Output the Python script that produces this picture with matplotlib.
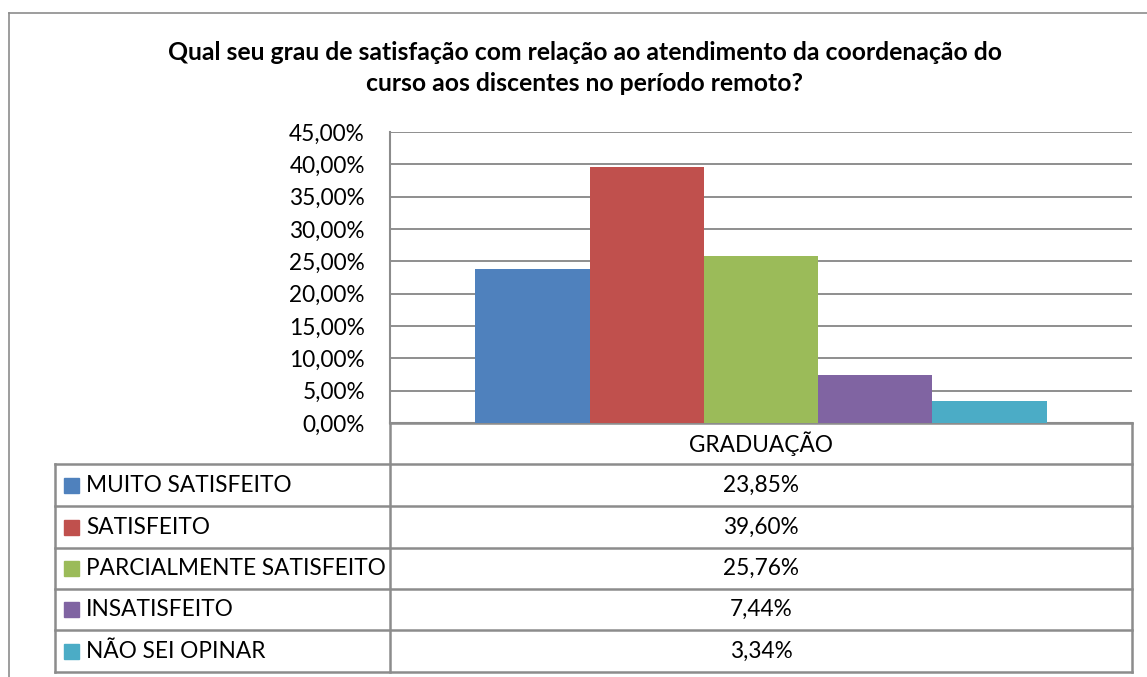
import matplotlib.pyplot as plt
from matplotlib.patches import Rectangle
from matplotlib.ticker import MultipleLocator, FuncFormatter

# dados
categorias = ['MUITO SATISFEITO', 'SATISFEITO', 'PARCIALMENTE SATISFEITO',
              'INSATISFEITO', 'NÃO SEI OPINAR']
valores = [23.85, 39.60, 25.76, 7.44, 3.34]
grupo = 'GRADUAÇÃO'
cores = ['#4F81BD', '#C0504D', '#9BBB59', '#8064A2', '#4BACC6']
titulo = ('Qual seu grau de satisfação com relação ao atendimento da coordenação do\n'
          'curso aos discentes no período remoto?')

W, H = 1147, 677
plt.rcParams['font.family'] = ['Lato', 'DejaVu Sans']
linha = '#8c8c8c'

fig = plt.figure(figsize=(W / 100, H / 100), dpi=100)

# camada de fundo em pixels para moldura e tabela
bg = fig.add_axes([0, 0, 1, 1])
bg.set_xlim(0, W)
bg.set_ylim(H, 0)
bg.axis('off')

# moldura externa
bg.plot([9, 9], [13, H + 5], color=linha, lw=1.2)
bg.plot([9, W + 5], [13, 13], color=linha, lw=1.2)

bg.text(585, 68, titulo, ha='center', va='center', fontsize=17.8,
        fontweight='bold', linespacing=1.38)

# area do grafico
x0, x1, y0, y1 = 390, 1132, 132, 423
ax = fig.add_axes([x0 / W, 1 - y1 / H, (x1 - x0) / W, (y1 - y0) / H])
ax.set_facecolor('none')
n = len(valores)
larg = 0.77 / n
for i, (v, c) in enumerate(zip(valores, cores)):
    ax.bar((i - (n - 1) / 2) * larg, v, width=larg, color=c, zorder=3)
ax.set_xlim(-0.5, 0.5)
ax.set_ylim(0, 45)
ax.yaxis.set_major_locator(MultipleLocator(5))
ax.yaxis.set_major_formatter(FuncFormatter(lambda v, p: f'{v:.2f}%'.replace('.', ',')))
ax.tick_params(axis='y', length=0, pad=18, labelsize=16.3)
ax.set_xticks([])
ax.grid(axis='y', color='#868686', lw=1.3, zorder=0)
for s in ['top', 'right']:
    ax.spines[s].set_visible(False)
for s in ['left', 'bottom']:
    ax.spines[s].set_color(linha)
    ax.spines[s].set_linewidth(1.5)

# tabela de dados
bordas = [423, 464, 506, 548, 589, 630, 672]
xt0 = 55
bg.plot([x0, x0], [y1, bordas[-1]], color=linha, lw=1.8)
bg.plot([x1, x1], [y1, bordas[-1]], color=linha, lw=1.8)
bg.plot([xt0, xt0], [bordas[1], bordas[-1]], color=linha, lw=1.8)
bg.plot([x0, x1], [bordas[0], bordas[0]], color=linha, lw=1.8)
for yb in bordas[1:]:
    bg.plot([xt0, x1], [yb, yb], color=linha, lw=1.8)

xc = (x0 + x1) / 2
bg.text(xc, (bordas[0] + bordas[1]) / 2, grupo, ha='center', va='center', fontsize=16.3)
for i, (cat, v, c) in enumerate(zip(categorias, valores, cores)):
    yc = (bordas[i + 1] + bordas[i + 2]) / 2
    bg.add_patch(Rectangle((64, yc - 7.5), 15, 15, color=c))
    bg.text(86, yc, cat, ha='left', va='center', fontsize=16.3)
    bg.text(xc, yc, f'{v:.2f}%'.replace('.', ','), ha='center', va='center', fontsize=16.3)

fig.savefig('out.png', dpi=100)
